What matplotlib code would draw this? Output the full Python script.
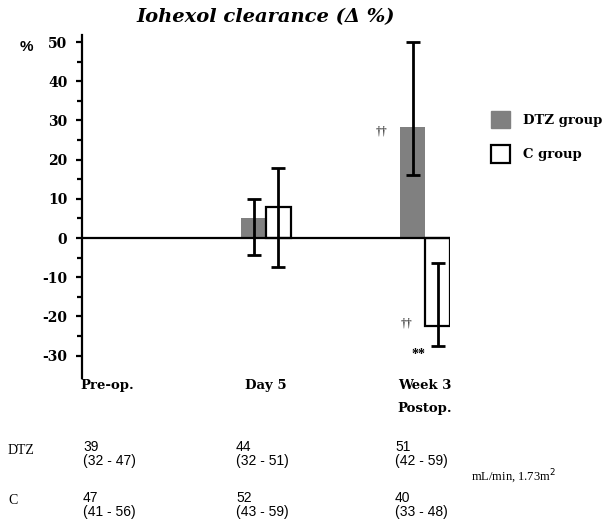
import numpy as np
from matplotlib import pyplot as plt
from matplotlib.patches import Patch
from matplotlib.ticker import FixedLocator

# data
periods = ['Pre-op.', 'Day 5', 'Week 3\nPostop.']
dtz_delta = [np.nan, 5.1, 28.3]
dtz_lo = [np.nan, -4.3, 16.0]
dtz_hi = [np.nan, 9.9, 50.0]
c_delta = [np.nan, 7.9, -22.5]
c_lo = [np.nan, -7.4, -27.6]
c_hi = [np.nan, 17.9, -6.4]
yticks = [-30, -20, -10, 0, 10, 20, 30, 40, 50]
yminor = [-25, -15, -5, 5, 15, 25, 35, 45]

# absolute clearance, median (range)
dtz_abs = ['39\n(32 - 47)', '44\n(32 - 51)', '51\n(42 - 59)']
c_abs = ['47\n(41 - 56)', '52\n(43 - 59)', '40\n(33 - 48)']

W, H = 607, 522
serif = 'DejaVu Serif'
times = 'Liberation Serif'
sans = 'Liberation Sans'

fig = plt.figure(figsize=(W / 100, H / 100), dpi=100)
ax = fig.add_axes([82 / W, 1 - 378 / H, (450 - 82) / W, (378 - 35) / H])

x = np.arange(len(periods))
w = 0.157
dtz_delta = np.array(dtz_delta); c_delta = np.array(c_delta)
dtz_err = [dtz_delta - np.array(dtz_lo), np.array(dtz_hi) - dtz_delta]
c_err = [c_delta - np.array(c_lo), np.array(c_hi) - c_delta]

ax.bar(x - w / 2, dtz_delta, w, color='#808080', zorder=2)
ax.bar(x + w / 2, c_delta, w, facecolor='white', edgecolor='black', lw=1.6, zorder=2)
ax.errorbar(x - w / 2, dtz_delta, yerr=dtz_err, fmt='none', ecolor='black',
            elinewidth=2, capsize=5, capthick=2, zorder=3)
ax.errorbar(x + w / 2, c_delta, yerr=c_err, fmt='none', ecolor='black',
            elinewidth=2, capsize=5, capthick=2, zorder=3)
ax.axhline(0, color='black', lw=1.6, zorder=4)

ax.set_xlim(-w, 2 + w)
ax.set_ylim(-35.7, 51.8)
for s in ['top', 'right', 'bottom']:
    ax.spines[s].set_visible(False)
ax.spines['left'].set_linewidth(1.6)
ax.yaxis.set_minor_locator(FixedLocator(yminor))
ax.tick_params(axis='y', which='major', length=4.5, width=1.6, pad=6)
ax.tick_params(axis='y', which='minor', length=3.5, width=1.6)
ax.set_yticks(yticks)
ax.set_yticklabels([str(v) for v in yticks], fontfamily=serif,
                   fontweight='bold', fontsize=10)
ax.set_xticks(x)
ax.set_xticklabels(periods, fontfamily=serif, fontweight='bold', fontsize=9.5,
                   linespacing=2.0, va='top')
ax.tick_params(axis='x', length=0, pad=1)

# significance marks
ax.text(2 - w - 0.08, dtz_delta[2] - 1, '††', ha='right', va='center',
        fontfamily=times, fontsize=8.5)
ax.text(2 - 0.08, c_delta[2] + 0.8, '††', ha='right', va='center',
        fontfamily=times, fontsize=8.5)
ax.text(2 + w / 2 - 0.12, -29.6, '**', ha='center', va='center',
        fontfamily=times, fontsize=10, fontweight='bold')

ax.set_title('Iohexol clearance (Δ %)', fontfamily=serif, fontweight='bold',
             fontstyle='italic', fontsize=14, pad=9)
fig.text(20 / W, 1 - 47 / H, '%', fontfamily=sans, fontweight='bold',
         fontsize=11, va='center')

handles = [Patch(facecolor='#808080', edgecolor='#808080'),
           Patch(facecolor='white', edgecolor='black', lw=1.6)]
fig.legend(handles, ['DTZ group', 'C group'], loc='upper left',
           bbox_to_anchor=(484 / W, 1 - 104 / H), frameon=False, borderpad=0,
           prop={'family': serif, 'weight': 'bold', 'size': 9.5},
           handlelength=1.5, handleheight=1.7, handletextpad=0.95,
           labelspacing=1.25)

# table of absolute values
col_x = [83, 236, 395]
fig.text(8 / W, 1 - 450 / H, 'DTZ', fontfamily=times, fontsize=10, va='center')
fig.text(8 / W, 1 - 500 / H, 'C', fontfamily=times, fontsize=10, va='center')
for cx, d, c in zip(col_x, dtz_abs, c_abs):
    fig.text(cx / W, 1 - 454 / H, d, fontfamily=sans, fontsize=10,
             va='center', linespacing=1.05)
    fig.text(cx / W, 1 - 505 / H, c, fontfamily=sans, fontsize=10,
             va='center', linespacing=1.05)
fig.text(471 / W, 1 - 477 / H, 'mL/min, 1.73m$^2$', fontfamily=times,
         fontsize=9, va='center')

fig.savefig('out.png', dpi=100)
